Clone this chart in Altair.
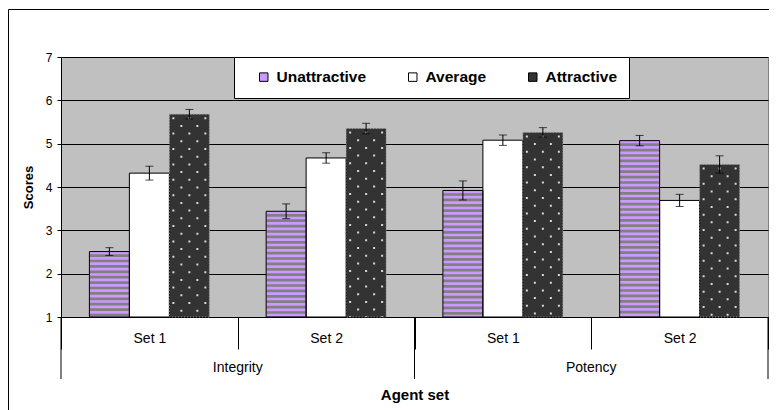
import altair as alt
import pandas as pd

# ---- data ----
cats = ["Integrity|Set 1", "Integrity|Set 2", "Potency|Set 1", "Potency|Set 2"]
groups = ["Integrity", "Potency"]
series = ["Unattractive", "Average", "Attractive"]
unattractive = [2.51, 3.44, 3.92, 5.07]
average = [4.32, 4.67, 5.08, 3.69]
attractive = [5.68, 5.35, 5.26, 4.52]
err_unattractive = [0.09, 0.17, 0.22, 0.12]
err_average = [0.16, 0.12, 0.12, 0.14]
err_attractive = [0.11, 0.12, 0.11, 0.20]
y_ticks = [1, 2, 3, 4, 5, 6, 7]
colors = ["#CC99FF", "#FFFFFF", "#333333"]

rows = []
for s, vals, errs in zip(series, [unattractive, average, attractive],
                         [err_unattractive, err_average, err_attractive]):
    for c, v, e in zip(cats, vals, errs):
        rows.append({"cat": c, "series": s, "value": v, "err": e})
df = pd.DataFrame(rows)

group_df = pd.DataFrame({"cat": [c for c in cats if c.endswith("Set 2")], "group": groups})
start_df = pd.DataFrame({"cat": [c for c in cats if c.endswith("Set 1")]})
end_df = pd.DataFrame({"cat": [cats[-1]]})

FONT = "Liberation Sans"
# sub-slots for the dot pattern (5 columns per bar), with spacer slots on each side
slots = ["pad_a0", "pad_a1", "pad_a2"] + [f"{s}|{i}" for s in series for i in range(5)] \
    + ["pad_b0", "pad_b1", "pad_b2"]


def X(**kw):
    return alt.X(
        "cat:N", sort=cats, title="Agent set",
        scale=alt.Scale(domain=cats, paddingInner=0, paddingOuter=0),
        axis=alt.Axis(labelExpr="split(datum.label, '|')[1]", labelFont=FONT, labelFontSize=14,
                      labelColor="black", labelPadding=-18, labelAngle=0,
                      tickBand="extent", tickSize=32, tickColor="black",
                      domainColor="black", grid=False,
                      titleFont=FONT, titleFontSize=15, titleFontWeight="bold",
                      titleColor="black", titlePadding=38),
        **kw)


def Y(field):
    return alt.Y(
        f"{field}:Q", title="Scores",
        scale=alt.Scale(domain=[1, 7], nice=False, zero=False),
        axis=alt.Axis(values=y_ticks, format="d", labelFont=FONT, labelFontSize=12,
                      labelColor="black", labelPadding=5, tickSize=4, tickColor="black",
                      domainColor="black", gridColor="black", gridOpacity=1, gridWidth=1,
                      titleFont=FONT, titleFontSize=13, titleFontWeight="bold",
                      titleColor="black", titlePadding=10))


XOFF = alt.XOffset("series:N", sort=series,
                   scale=alt.Scale(domain=series, paddingInner=0, paddingOuter=0.71))
SLOTOFF = alt.XOffset("slot:N",
                      scale=alt.Scale(domain=slots, paddingInner=0, paddingOuter=0.55))

base = alt.Chart(df)

bars = base.mark_bar().encode(
    x=X(), xOffset=XOFF, y=Y("value"), y2=alt.datum(1),
    fill=alt.Fill("series:N", sort=series,
                  scale=alt.Scale(domain=series, range=colors),
                  legend=alt.Legend(title=None, orient="none", legendX=173, legendY=0,
                                    direction="horizontal", fillColor="white",
                                    strokeColor="black", padding=12, symbolOffset=10,
                                    columnPadding=28, labelFont=FONT, labelFontSize=15.5,
                                    labelFontWeight="bold", labelColor="black",
                                    labelOffset=5, symbolType="square", symbolSize=72,
                                    symbolStrokeColor="black", symbolStrokeWidth=1)),
)

stripes = base.transform_filter("datum.series == 'Unattractive'").mark_rule(
    color="#808080", strokeWidth=39.5, strokeDash=[2.7, 2.7], strokeDashOffset=2.7
).encode(x=X(), xOffset=XOFF, y=Y("value"), y2=alt.datum(1))


def dots(cols, offset):
    return base.transform_filter("datum.series == 'Attractive'").transform_calculate(
        col=cols).transform_flatten(["col"]).transform_calculate(
        slot="datum.series + '|' + datum.col").mark_rule(
        color="#D8D8D8", strokeWidth=2, strokeDash=[2, 13.4], strokeDashOffset=offset
    ).encode(x=X(), xOffset=SLOTOFF, y=Y("value"), y2=alt.datum(1))


dots_even = dots("[0, 2, 4]", 12.4)
dots_odd = dots("[1, 3]", 4.7)

outline_ua = base.transform_filter("datum.series != 'Attractive'").mark_bar(
    fillOpacity=0, stroke="black", strokeWidth=1
).encode(x=X(), xOffset=XOFF, y=Y("value"), y2=alt.datum(1))

outline_att = base.transform_filter("datum.series == 'Attractive'").mark_bar(
    fillOpacity=0, stroke="#A0A0A0", strokeWidth=1, strokeDash=[1, 2]
).encode(x=X(), xOffset=XOFF, y=Y("value"), y2=alt.datum(1))

err_base = base.transform_calculate(lo="datum.value - datum.err", hi="datum.value + datum.err")
err_rule = err_base.mark_rule(color="black", strokeWidth=1).encode(
    x=X(), xOffset=XOFF, y=Y("lo"), y2="hi:Q")
err_caps = err_base.transform_fold(["lo", "hi"], as_=["k", "v"]).mark_tick(
    color="black", thickness=1, size=8, orient="horizontal"
).encode(x=X(), xOffset=XOFF, y=Y("v"))

group_lines_start = alt.Chart(start_df).mark_rule(color="black", strokeWidth=1).encode(
    x=alt.X("cat:N", bandPosition=0, title="Agent set"), y=alt.value(260), y2=alt.value(322))
group_lines_end = alt.Chart(end_df).mark_rule(color="black", strokeWidth=1).encode(
    x=alt.X("cat:N", bandPosition=1, title="Agent set"), y=alt.value(260), y2=alt.value(322))
group_text = alt.Chart(group_df).mark_text(
    font=FONT, fontSize=14, color="black", baseline="middle", align="center"
).encode(x=alt.X("cat:N", bandPosition=0, title="Agent set"), y=alt.value(311), text="group:N")

frame = alt.Chart(pd.DataFrame({"f": [0]})).mark_rect(
    fillOpacity=0, stroke="black", strokeWidth=1
).encode(x=alt.value(-52.5), x2=alt.value(900), y=alt.value(-47.5), y2=alt.value(500))

chart = alt.layer(
    bars, stripes, dots_even, dots_odd, outline_ua, outline_att, err_rule, err_caps,
    group_lines_start, group_lines_end, group_text, frame
).resolve_scale(xOffset="independent").properties(
    width=707, height=260,
    padding={"left": 53, "top": 49, "right": 1, "bottom": 93},
    autosize=alt.AutoSizeParams(type="none"),
    background="white",
).configure_view(fill="#C0C0C0", stroke="#808080")

chart.save("out.html", embed_options={"renderer": "svg", "actions": False})
